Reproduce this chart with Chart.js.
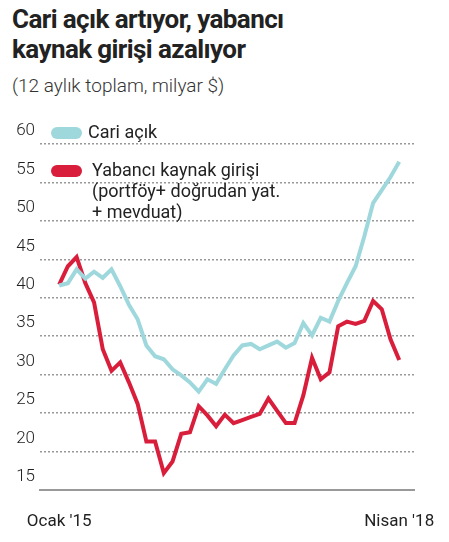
<!DOCTYPE html>
<html><head><meta charset="utf-8">
<script src="https://cdn.jsdelivr.net/npm/chart.js@4"></script>
<style>
body{margin:0;width:449px;height:542px;background:#fff;position:relative;font-family:"Roboto",sans-serif;color:#222;overflow:hidden}
#t{position:absolute;left:12px;top:4px;font-weight:bold;font-size:26px;line-height:30px;letter-spacing:-0.6px}
#s{position:absolute;left:12px;top:74px;font-size:19px;color:#333;font-weight:300}
#c{position:absolute;left:0;top:110px;width:449px;height:420px}
.lg{position:absolute;font-size:18px;color:#222;line-height:21px}
.sw{position:absolute;width:31px;height:12px;border-radius:6px}
</style></head><body>
<div id="t">Cari açık artıyor, yabancı<br>kaynak girişi azalıyor</div>
<div id="s">(12 aylık toplam, milyar $)</div>
<div id="c"><canvas id="cv"></canvas></div>
<div class="sw" style="left:51px;top:127px;background:#9fd8dc"></div>
<div class="lg" style="left:88px;top:121px">Cari açık</div>
<div class="sw" style="left:51px;top:165px;background:#d91e3c"></div>
<div class="lg" style="left:92px;top:159px">Yabancı kaynak girişi<br>(portföy+ doğrudan yat.<br>+ mevduat)</div>
<script>
const months = Array.from({length:40},(_,i)=>i);
const xLabels = ["Ocak '15","Nisan '18"];
const cariAcik = [41.6,41.9,43.7,42.5,43.4,42.6,43.7,41.5,39.1,37.2,33.8,32.4,32.0,30.7,29.9,29.0,27.8,29.4,28.8,30.7,32.5,33.8,34.0,33.3,33.8,34.3,33.5,34.1,36.7,35.1,37.4,36.9,39.6,41.9,44.1,48.0,52.3,54.0,55.7,57.7];
const yabanci = [41.7,44.1,45.3,41.9,39.4,33.3,30.5,31.6,29.0,26.2,21.3,21.3,17.2,18.7,22.3,22.5,25.9,24.7,23.3,24.8,23.7,24.1,24.5,24.9,26.9,25.3,23.7,23.7,27.3,32.2,29.4,30.3,36.3,36.9,36.6,37.0,39.6,38.5,34.6,31.9];
const yTicks = [15,20,25,30,35,40,45,50,55,60];
new Chart(document.getElementById('cv'),{
 type:'line',
 data:{datasets:[
  {data:cariAcik.map((v,i)=>({x:months[i],y:v})),borderColor:'#9fd8dc',borderWidth:4,pointRadius:0,tension:0},
  {data:yabanci.map((v,i)=>({x:months[i],y:v})),borderColor:'#d91e3c',borderWidth:4,pointRadius:0,tension:0}
 ]},
 options:{animation:false,responsive:true,maintainAspectRatio:false,
  layout:{padding:{top:34,right:19,left:0,bottom:0}},
  plugins:{legend:{display:false},tooltip:{enabled:false}},
  scales:{
   x:{type:'linear',min:-2.2,max:40.8,
     afterBuildTicks:s=>{s.ticks=[{value:0},{value:39}]},
     afterFit:s=>{s.height=40},
     grid:{display:false},border:{display:true,color:'#999',width:2},
     ticks:{padding:14,color:'#222',font:{size:17,family:"Roboto"},callback:(v)=>v===0?xLabels[0]:xLabels[1]}},
   y:{min:15,max:60,
     afterBuildTicks:s=>{s.ticks=yTicks.map(v=>({value:v}))},
     afterFit:s=>{s.width=40},
     border:{display:false,dash:[2,2]},
     grid:{color:'#999',lineWidth:1.5,tickLength:0,drawTicks:false},
     ticks:{labelOffset:-13,padding:5,color:'#222',font:{size:17,family:"Roboto",weight:300}}}
  }
 }
});
</script></body></html>
